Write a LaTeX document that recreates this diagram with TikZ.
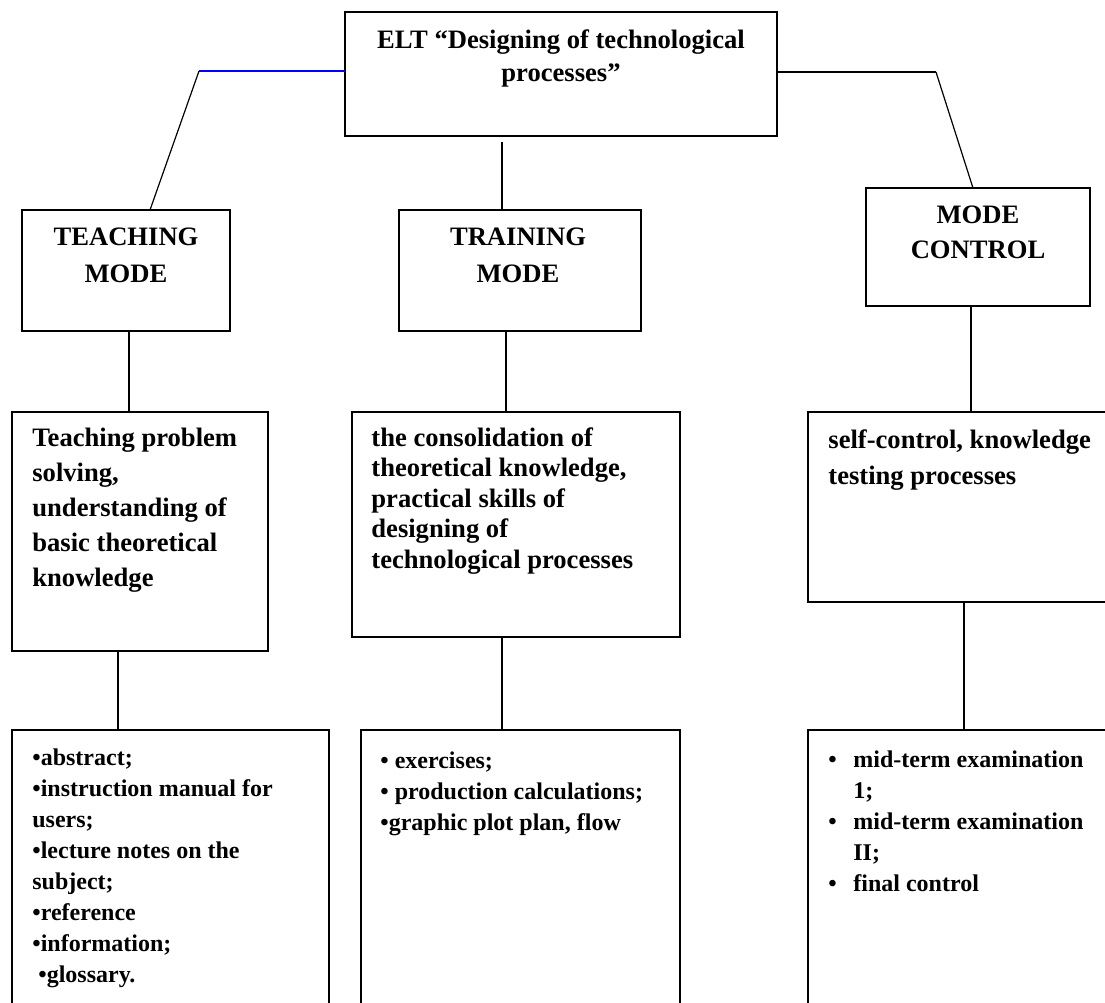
\documentclass[tikz,border=0pt]{standalone}
\usepackage{fontspec}
\setmainfont{Liberation Serif}
\usetikzlibrary{positioning, calc}
\newcommand{\boxfont}{\fontsize{13.3}{17.5}\selectfont\bfseries}
\newcommand{\listfont}{\fontsize{12}{15.5}\selectfont\bfseries}

\begin{document}
\begin{tikzpicture}[
        x=0.5pt, y=-0.5pt,
        frame/.style={rectangle, draw, line width=0.9pt, inner sep=0pt, outer sep=0pt},
        head/.style={inner sep=0pt, font=\boxfont, align=center, anchor=north},
        body/.style={inner sep=0pt, font=\boxfont, align=left, anchor=north west},
        items/.style={inner sep=0pt, font=\listfont, align=left, anchor=north west},
        link/.style={line width=0.6pt},
        bluelink/.style={line width=1.1pt, blue}
    ]
    \useasboundingbox (0,0) rectangle (1105,1003);
    \clip (0,0) rectangle (1105,1003);

    % boxes
    \node (elt) [frame, minimum width=216pt, minimum height=62pt] at (561,74) {};
    \node (teach) [frame, minimum width=104pt, minimum height=60.5pt] at (126,270.5) {};
    \node (train) [frame, minimum width=121pt, minimum height=60.5pt] at (520,270.5) {};
    \node (ctrl) [frame, minimum width=112pt, minimum height=59pt] at (978,247) {};

    \node (teachgoal) [frame, minimum width=128pt, minimum height=119.5pt] at (140,531.5) {};
    \node (traingoal) [frame, minimum width=164pt, minimum height=112.5pt] at (516,524.5) {};
    \node (ctrlgoal) [frame, minimum width=156pt, minimum height=95pt] at (964,507) {};

    \node (teachlist) [frame, minimum width=158.5pt, minimum height=145pt] at (170.5,875) {};
    \node (trainlist) [frame, minimum width=159.5pt, minimum height=145pt] at (520.5,875) {};
    \node (ctrllist) [frame, minimum width=156pt, minimum height=145pt] at (964,875) {};

    % texts
    \node (elttext) [head, font=\fontsize{13.3}{16.5}\selectfont\bfseries] at (561,29) {ELT “Designing of technological\\processes”};
    \node (teachtext) [head, font=\fontsize{13.3}{18.5}\selectfont\bfseries] at (126,227) {TEACHING\\MODE};
    \node (traintext) [head, font=\fontsize{13.3}{18.5}\selectfont\bfseries] at (518,227) {TRAINING\\MODE};
    \node (ctrltext) [head] at (978,205) {MODE\\CONTROL};

    \node (teachgoaltext) [body] at (32,428) {Teaching problem\\solving,\\understanding of\\basic theoretical\\knowledge};
    \node (traingoaltext) [body, font=\fontsize{13.3}{15.25}\selectfont\bfseries] at (371,427) {the consolidation of\\theoretical knowledge,\\practical skills of\\designing of\\technological processes};
    \node (ctrlgoaltext) [body, font=\fontsize{13.3}{18}\selectfont\bfseries] at (828,429) {self-control, knowledge\\testing processes};

    \node (teachlisttext) [items] at (32,748) {•abstract;\\•instruction manual for\\users;\\•lecture notes on the\\subject;\\•reference\\•information;\\\hspace*{3pt}•glossary.};
    \node (trainlisttext) [items] at (380,751) {• exercises;\\• production calculations;\\•graphic plot plan, flow};
    \node (ctrllisttext) [items] at (828,750) {\makebox[12.5pt][l]{•}mid-term examination\\\hspace*{12.5pt}1;\\\makebox[12.5pt][l]{•}mid-term examination\\\hspace*{12.5pt}II;\\\makebox[12.5pt][l]{•}final control};

    % connectors
    \coordinate (lknee) at (199,71);
    \coordinate (rknee) at (936,72);
    \draw [bluelink] (lknee -| elt.west) -- (lknee);
    \draw [link] (lknee) -- ($(teach.north)+(24,0)$);
    \draw [line width=1.1pt] (rknee -| elt.east) -- (rknee);
    \draw [link] (rknee) -- ($(ctrl.north)+(-5,0)$);
    \draw [link] ($(elt.south)+(-59,6)$) -- ($(train.north)+(-18,0)$);

    \draw [link] ($(teach.south)+(3,0)$) coordinate (a1) -- (a1 |- teachgoal.north);
    \draw [link] ($(train.south)+(-14,0)$) coordinate (a2) -- (a2 |- traingoal.north);
    \draw [link] ($(ctrl.south)+(-7,0)$) coordinate (a3) -- (a3 |- ctrlgoal.north);

    \draw [link] ($(teachgoal.south)+(-22,0)$) coordinate (b1) -- (b1 |- teachlist.north);
    \draw [link] ($(traingoal.south)+(-14,0)$) coordinate (b2) -- (b2 |- trainlist.north);
    \draw [link] (ctrlgoal.south) -- (ctrllist.north);

\end{tikzpicture}
\end{document}
